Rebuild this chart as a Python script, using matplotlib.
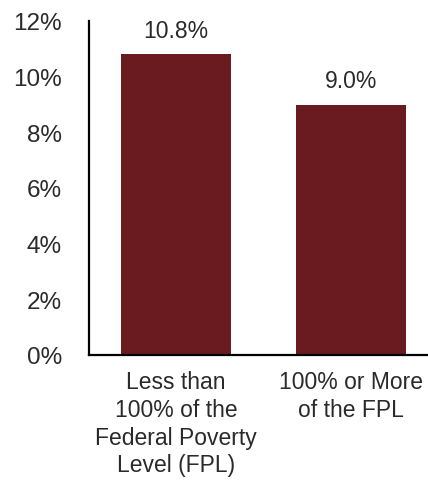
import matplotlib
matplotlib.use("Agg")
import matplotlib.pyplot as plt
import numpy as np

categories = ["Less than\n100% of the\nFederal Poverty\nLevel (FPL)", "100% or More\nof the FPL"]
values = [10.8, 9.0]
yticks = [0, 2, 4, 6, 8, 10, 12]

plt.rcParams['font.family'] = ['Liberation Sans', 'DejaVu Sans']

fig = plt.figure(figsize=(4.28, 4.85), dpi=100)
ax = fig.add_axes([88.5 / 428, 129 / 485, 350 / 428, 334 / 485])

x = np.arange(len(values))
ax.bar(x, values, width=0.63, color="#6a1b1f")

for xi, v in zip(x, values):
    ax.annotate(f"{v:.1f}%", (xi, v), xytext=(0, 9), textcoords="offset points",
                ha="center", va="bottom", fontsize=16.5, color="#2a2a2a")

ax.set_xlim(-0.5, 1.5)
ax.set_ylim(0, 12)
ax.set_yticks(yticks)
ax.set_yticklabels([f"{t}%" for t in yticks], fontsize=17.5, color="#2a2a2a")
ax.set_xticks(x)
ax.set_xticklabels(categories, fontsize=16.5, color="#2a2a2a", linespacing=1.26)
ax.tick_params(axis="y", length=0, pad=19)
ax.tick_params(axis="x", length=0, pad=11)

for s in ["top", "right"]:
    ax.spines[s].set_visible(False)
ax.spines["left"].set_linewidth(1.6)
ax.spines["bottom"].set_linewidth(1.6)

fig.savefig("out.png", dpi=100)
